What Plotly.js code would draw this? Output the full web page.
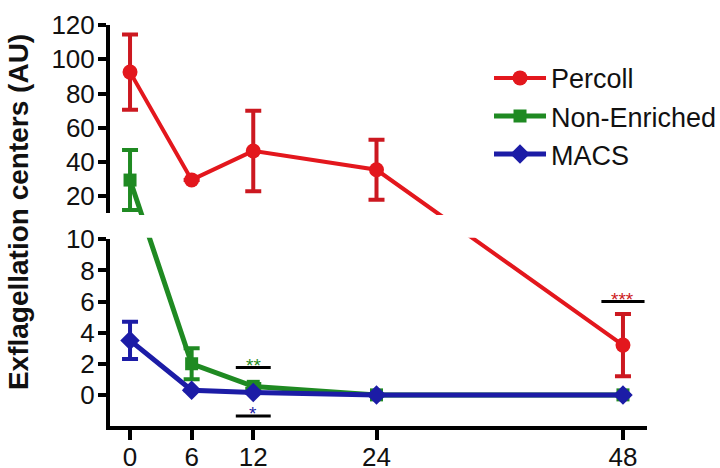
<!DOCTYPE html>
<html>
<head>
<meta charset="utf-8">
<script src="https://cdn.plot.ly/plotly-3.0.1.min.js"></script>
<style>html,body{margin:0;padding:0;background:#fff;}#chart{width:720px;height:468px;}</style>
</head>
<body>
<div id="chart"></div>
<script>
// ---- data ----
const hours = [0, 6, 12, 24, 48];
const percollMean = [92.5, 29.6, 46.5, 35.5, 3.2];
const percollSEM  = [22, 0, 23.5, 17.5, 2.0];
const nonEnrichedMean = [29.5, 2.0, 0.55, 0, 0];
const nonEnrichedSEM  = [17.5, 1.0, 0.15, 0, 0];
const macsMean = [3.5, 0.3, 0.15, 0, 0];
const macsSEM  = [1.2, 0, 0, 0, 0];
const upperTicks = [20, 40, 60, 80, 100, 120];
const lowerTicks = [0, 2, 4, 6, 8, 10];
const xTicks = [0, 6, 12, 24, 48];
const sigHours  = [12, 12, 48];
const sigLevels = [1.76, -1.35, 6.0];
const sigLabels = ['**', '*', '***'];

// ---- broken axis geometry ----
const LOW = [-2, 10], HIGH = [10, 120];
const B1 = 0.4656;  // top of lower panel (fraction of plot height)
const T0 = 0.530;   // bottom of upper panel
function toFrac(v) {
  if (v <= LOW[1]) return B1 * (v - LOW[0]) / (LOW[1] - LOW[0]);
  return T0 + (1 - T0) * (v - HIGH[0]) / (HIGH[1] - HIGH[0]);
}

const RED = '#e3171d', RED_ERR = '#cc1820', GREEN = '#1f8a22', BLUE = '#1c1ca6';

function series(name, mean, sem, color, errColor, symbol, size, lw) {
  return {
    type: 'scatter', mode: 'lines+markers', name: name,
    legendgroup: name,
    x: hours, y: mean.map(toFrac),
    xaxis: 'x', yaxis: 'y3',
    line: {color: color, width: lw},
    marker: {color: color, symbol: symbol, size: size},
    error_y: {
      type: 'data', symmetric: false,
      array: mean.map((m, i) => toFrac(m + sem[i]) - toFrac(m)),
      arrayminus: mean.map((m, i) => toFrac(m) - toFrac(m - sem[i])),
      color: errColor, thickness: 4, width: 8
    },
    cliponaxis: true
  };
}

const traces = [
  series('Percoll', percollMean, percollSEM, RED, RED_ERR, 'circle', 15, 4),
  series('Non-Enriched', nonEnrichedMean, nonEnrichedSEM, GREEN, GREEN, 'square', 13, 5),
  series('MACS', macsMean, macsSEM, BLUE, BLUE, 'diamond', 15, 5),
  {type: 'scatter', x: [], y: [], xaxis: 'x', yaxis: 'y', showlegend: false},
  {type: 'scatter', x: [], y: [], xaxis: 'x', yaxis: 'y2', showlegend: false}
];

const sigColors = [GREEN, BLUE, RED_ERR];
const sigHalf = [1.7, 1.7, 2.1];
const shapes = [
  {type: 'rect', xref: 'paper', yref: 'paper', x0: 0.006, x1: 1.02,
   y0: B1 + 0.004, y1: T0 - 0.004, fillcolor: '#ffffff', line: {width: 0}, layer: 'above'}
];
const annotations = [
  {xref: 'paper', yref: 'paper', x: -0.169, y: 0.534, text: '<b>Exflagellation centers (AU)</b>',
   textangle: -90, showarrow: false, font: {size: 28, color: '#111'}, xanchor: 'center', yanchor: 'middle'}
];
sigHours.forEach((h, i) => {
  shapes.push({type: 'line', xref: 'x', yref: 'y2', x0: h - sigHalf[i], x1: h + sigHalf[i],
    y0: sigLevels[i], y1: sigLevels[i], line: {color: '#000', width: 3}});
  annotations.push({xref: 'x', yref: 'y2', x: h, y: sigLevels[i], text: sigLabels[i],
    showarrow: false, yanchor: 'middle', yshift: 2, font: {size: 19, color: sigColors[i]}});
});

const axisCommon = {
  ticks: 'outside', tickwidth: 4, tickcolor: '#000', showline: true, linewidth: 4,
  linecolor: '#000', showgrid: false, zeroline: false, tickfont: {size: 26, color: '#111'}
};

const layout = {
  width: 720, height: 468,
  margin: {l: 110, r: 73, t: 25, b: 42, pad: 0, autoexpand: false},
  paper_bgcolor: '#ffffff', plot_bgcolor: 'rgba(0,0,0,0)',
  font: {family: '"Liberation Sans", Arial, sans-serif', size: 26, color: '#111'},
  showlegend: true,
  legend: {x: 0.7058, y: 0.928, xanchor: 'left', yanchor: 'top', font: {size: 27},
    bgcolor: 'rgba(0,0,0,0)', itemwidth: 52, tracegroupgap: 0},
  xaxis: Object.assign({}, axisCommon, {range: [-1.95, 50.34], tickvals: xTicks, ticklen: 10,
    anchor: 'y2', ticklabelstandoff: -5}),
  yaxis: Object.assign({}, axisCommon, {domain: [T0, 1], range: HIGH, tickvals: upperTicks,
    ticklen: 8, anchor: 'x', ticklabelstandoff: -2}),
  yaxis2: Object.assign({}, axisCommon, {domain: [0, B1], range: LOW, tickvals: lowerTicks,
    ticklen: 8, anchor: 'x', ticklabelstandoff: -2}),
  yaxis3: {domain: [0, 1], range: [0, 1], visible: false, anchor: 'x', fixedrange: true},
  shapes: shapes,
  annotations: annotations
};

Plotly.newPlot('chart', traces, layout, {displayModeBar: false, staticPlot: true});
</script>
</body>
</html>
